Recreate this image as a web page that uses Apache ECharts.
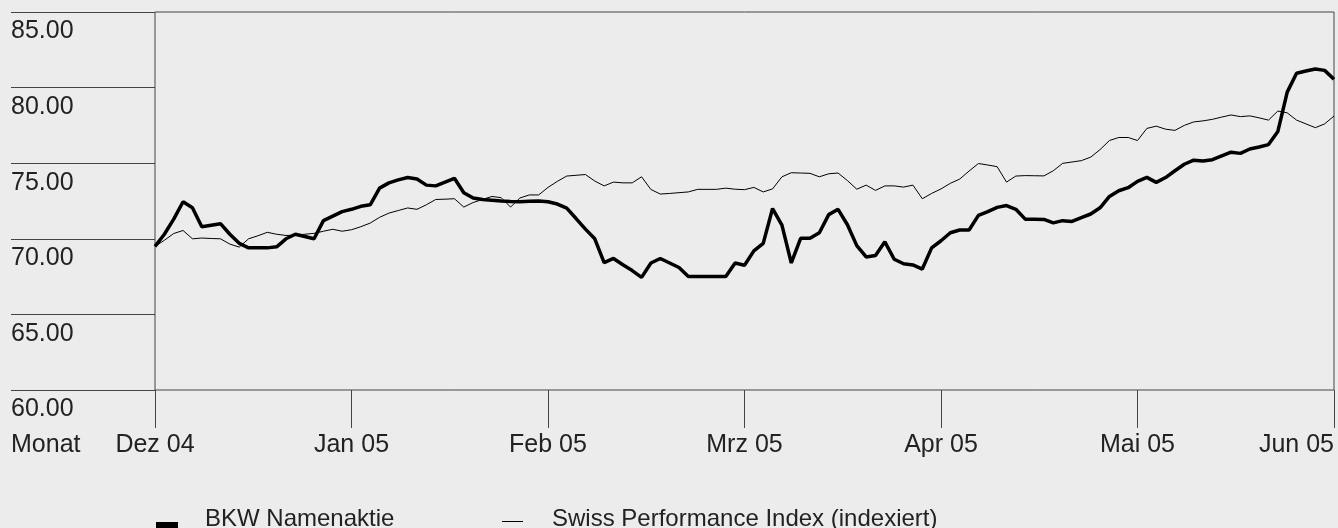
<!DOCTYPE html>
<html>
<head>
<meta charset="utf-8">
<script src="https://cdn.jsdelivr.net/npm/echarts@6/dist/echarts.min.js"></script>
<style>
  html, body { margin: 0; padding: 0; background: #ececec; }
  #chart { width: 1338px; height: 528px; }
</style>
</head>
<body>
<div id="chart"></div>
<script>
// month labels, one tick every 21 trading days
const monthLabels = ['Dez 04', 'Jan 05', 'Feb 05', 'Mrz 05', 'Apr 05', 'Mai 05', 'Jun 05']
const daysPerMonth = 21

const yTicks = [60, 65, 70, 75, 80, 85]

// BKW Namenaktie (CHF)
const bkw = [
  69.5, 70.3, 71.3, 72.45, 72.05, 70.8, 70.9, 71.0, 70.3, 69.7,
  69.4, 69.4, 69.4, 69.47, 70.0, 70.3, 70.15, 70.0, 71.2, 71.5,
  71.8, 71.95, 72.15, 72.25, 73.35, 73.7, 73.9, 74.05, 73.95, 73.55,
  73.5, 73.75, 74.0, 73.05, 72.7, 72.6, 72.55, 72.5, 72.47, 72.45,
  72.48, 72.5, 72.45, 72.3, 72.03, 71.34, 70.64, 70.0, 68.42, 68.7,
  68.28, 67.9, 67.45, 68.4, 68.7, 68.4, 68.1, 67.5, 67.5, 67.5,
  67.5, 67.5, 68.4, 68.25, 69.2, 69.7, 72.0, 70.9, 68.4, 70.03,
  70.03, 70.4, 71.6, 71.95, 70.93, 69.55, 68.8, 68.9, 69.8, 68.65,
  68.35, 68.27, 68.0, 69.4, 69.87, 70.4, 70.58, 70.58, 71.55, 71.8,
  72.08, 72.2, 71.95, 71.3, 71.3, 71.28, 71.05, 71.2, 71.15, 71.4,
  71.64, 72.05, 72.8, 73.18, 73.38, 73.8, 74.06, 73.73, 74.05, 74.5,
  74.93, 75.2, 75.15, 75.23, 75.48, 75.73, 75.65, 75.94, 76.07, 76.23,
  77.1, 79.7, 80.95, 81.1, 81.23, 81.14, 80.55
]

// Swiss Performance Index, indexiert
const spi = [
  69.5, 69.9, 70.35, 70.55, 70.0, 70.05, 70.02, 70.0, 69.65, 69.45,
  70.0, 70.2, 70.43, 70.3, 70.22, 70.24, 70.3, 70.36, 70.5, 70.63,
  70.5, 70.6, 70.8, 71.04, 71.42, 71.7, 71.87, 72.04, 71.95, 72.25,
  72.6, 72.62, 72.65, 72.1, 72.4, 72.6, 72.8, 72.72, 72.1, 72.7,
  72.9, 72.9, 73.4, 73.8, 74.15, 74.2, 74.25, 73.82, 73.5, 73.75,
  73.7, 73.7, 74.1, 73.26, 72.96, 73.0, 73.05, 73.1, 73.27, 73.27,
  73.27, 73.35, 73.28, 73.25, 73.4, 73.1, 73.3, 74.1, 74.37, 74.35,
  74.33, 74.1, 74.3, 74.35, 73.85, 73.28, 73.55, 73.2, 73.5, 73.5,
  73.42, 73.55, 72.65, 73.0, 73.3, 73.67, 73.95, 74.48, 74.98, 74.88,
  74.77, 73.75, 74.15, 74.18, 74.17, 74.16, 74.5, 74.99, 75.08, 75.17,
  75.4, 75.9, 76.5, 76.7, 76.7, 76.5, 77.3, 77.45, 77.25, 77.17,
  77.5, 77.73, 77.8, 77.9, 78.05, 78.19, 78.08, 78.13, 78.0, 77.85,
  78.45, 78.33, 77.85, 77.6, 77.35, 77.6, 78.12
]

const font = 'Liberation Sans, Arial, sans-serif'
const lineColor = '#444'
const textColor = '#222'

const days = bkw.map((v, i) => (i % daysPerMonth === 0 ? monthLabels[i / daysPerMonth] : ''))
const isMonth = (i, v) => v !== ''

const chart = echarts.init(document.getElementById('chart'))

const option = {
  backgroundColor: '#ececec',
  animation: false,
  grid: {
    left: 155,
    top: 12,
    right: 4,
    bottom: 138,
    outerBoundsMode: 'none',
    containLabel: false,
    show: true,
    borderColor: lineColor,
    borderWidth: 1
  },
  xAxis: {
    type: 'category',
    data: days,
    boundaryGap: false,
    axisLine: { show: false },
    axisTick: {
      show: true,
      length: 38,
      interval: isMonth,
      lineStyle: { color: lineColor, width: 1 }
    },
    axisLabel: {
      interval: isMonth,
      alignMaxLabel: 'right',
      margin: 43,
      fontSize: 25,
      fontFamily: font,
      color: textColor
    },
    splitLine: { show: false }
  },
  yAxis: {
    type: 'value',
    min: yTicks[0],
    max: yTicks[yTicks.length - 1],
    interval: 5,
    axisLine: { show: false },
    axisTick: {
      show: true,
      length: 144,
      lineStyle: { color: lineColor, width: 1 }
    },
    axisLabel: {
      align: 'left',
      verticalAlign: 'top',
      margin: 144,
      padding: [7, 0, 0, 0],
      fontSize: 25,
      fontFamily: font,
      color: textColor,
      formatter: v => v.toFixed(2)
    },
    splitLine: { show: false }
  },
  series: [
    {
      name: 'Swiss Performance Index (indexiert)',
      type: 'line',
      data: spi,
      symbol: 'none',
      lineStyle: { color: '#000', width: 1 }
    },
    {
      name: 'BKW Namenaktie',
      type: 'line',
      data: bkw,
      symbol: 'none',
      lineStyle: { color: '#000', width: 3.5 }
    }
  ],
  graphic: [
    {
      type: 'text',
      left: 11,
      top: 433,
      style: { text: 'Monat', font: '25px ' + font, fill: textColor }
    },
    {
      type: 'rect',
      shape: { x: 156, y: 522, width: 22, height: 8 },
      style: { fill: '#000' }
    },
    {
      type: 'text',
      left: 205,
      top: 507,
      style: { text: 'BKW Namenaktie', font: '24px ' + font, fill: textColor }
    },
    {
      type: 'line',
      shape: { x1: 502, y1: 521.5, x2: 523, y2: 521.5 },
      style: { stroke: '#000', lineWidth: 1 }
    },
    {
      type: 'text',
      left: 552,
      top: 507,
      style: { text: 'Swiss Performance Index (indexiert)', font: '24px ' + font, fill: textColor }
    }
  ]
}

chart.setOption(option)
</script>
</body>
</html>
